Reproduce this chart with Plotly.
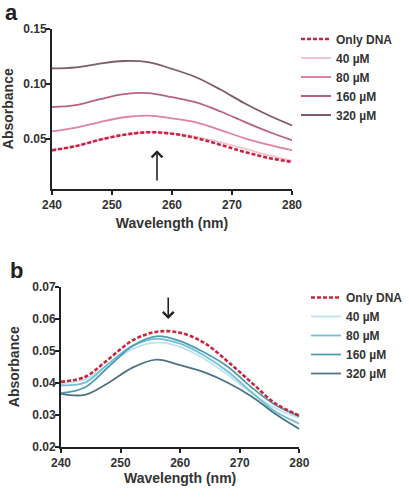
import plotly.graph_objects as go

# ---------------- data ----------------
wavelength = [240, 244, 248, 252, 256, 260, 264, 268, 272, 276, 280]
series_labels = ["Only DNA", "40 µM", "80 µM", "160 µM", "320 µM"]

# panel a
a_only_dna = [0.0394, 0.0432, 0.0490, 0.0535, 0.0558, 0.0545, 0.0505, 0.0445, 0.0380, 0.0325, 0.0287]
a_40 = [0.0394, 0.0432, 0.0490, 0.0535, 0.0558, 0.0547, 0.0515, 0.0468, 0.0410, 0.0350, 0.0300]
a_80 = [0.0566, 0.0600, 0.0650, 0.0695, 0.0710, 0.0685, 0.0648, 0.0580, 0.0505, 0.0445, 0.0394]
a_160 = [0.0787, 0.0805, 0.0860, 0.0905, 0.0915, 0.0878, 0.0830, 0.0750, 0.0655, 0.0565, 0.0485]
a_320 = [0.1140, 0.1150, 0.1185, 0.1208, 0.1198, 0.1136, 0.1060, 0.0950, 0.0825, 0.0715, 0.0620]

# panel b
b_only_dna = [0.0403, 0.0418, 0.0474, 0.0532, 0.0559, 0.0556, 0.0525, 0.0466, 0.0400, 0.0335, 0.0297]
b_40 = [0.0398, 0.0410, 0.0458, 0.0505, 0.0525, 0.0512, 0.0475, 0.0425, 0.0368, 0.0320, 0.0290]
b_80 = [0.0392, 0.0400, 0.0460, 0.0515, 0.0537, 0.0522, 0.0485, 0.0435, 0.0370, 0.0310, 0.0272]
b_160 = [0.0367, 0.0385, 0.0450, 0.0515, 0.0545, 0.0530, 0.0495, 0.0450, 0.0385, 0.0330, 0.0295]
b_320 = [0.0365, 0.0362, 0.0400, 0.0447, 0.0472, 0.0455, 0.0433, 0.0400, 0.0357, 0.0302, 0.0255]

a_ticks = [0.05, 0.10, 0.15]
b_ticks = [0.02, 0.03, 0.04, 0.05, 0.06, 0.07]
x_ticks = [240, 250, 260, 270, 280]

colors_a = ["#cc2145", "#f2c4cf", "#e0839f", "#b9617f", "#7f5b6b"]
colors_b = ["#c8283c", "#bde2ef", "#72bfd6", "#4e9cb4", "#4c7482"]

W, H = 409, 497
def px_x(p): return p / W
def px_y(p): return 1 - p / H

fig = go.Figure()

a_series = [a_only_dna, a_40, a_80, a_160, a_320]
b_series = [b_only_dna, b_40, b_80, b_160, b_320]

# draw concentration lines first, dashed "Only DNA" on top
for idx in [1, 2, 3, 4, 0]:
    fig.add_trace(go.Scatter(
        x=wavelength, y=a_series[idx], name=series_labels[idx], mode="lines",
        line=dict(color=colors_a[idx], width=2.6 if idx == 0 else 1.8,
                  dash="4px,2px" if idx == 0 else "solid", shape="spline", smoothing=1),
        xaxis="x", yaxis="y", legend="legend", legendrank=idx + 1))
for idx in [1, 2, 3, 4, 0]:
    fig.add_trace(go.Scatter(
        x=wavelength, y=b_series[idx], name=series_labels[idx], mode="lines",
        line=dict(color=colors_b[idx], width=2.6 if idx == 0 else 1.8,
                  dash="4px,2px" if idx == 0 else "solid", shape="spline", smoothing=1),
        xaxis="x2", yaxis="y2", legend="legend2", legendrank=idx + 1))

font_fam = "Liberation Sans, Arial, sans-serif"
axis_common = dict(showgrid=False, zeroline=False, showline=True, linecolor="#222",
                   linewidth=2, ticks="outside", ticklen=4, tickwidth=2, tickcolor="#222",
                   tickfont=dict(size=12, color="#333", family=font_fam, weight="bold"),
                   automargin=False)

fig.update_layout(
    width=W, height=H,
    margin=dict(l=0, r=0, t=0, b=0),
    paper_bgcolor="white", plot_bgcolor="white",
    font=dict(family=font_fam, color="#222"),
    xaxis=dict(axis_common, domain=[px_x(52), px_x(292)], range=[240, 280],
               tickvals=x_ticks, anchor="y",
               title=dict(text="Wavelength (nm)", standoff=7,
                          font=dict(size=14, weight="bold", color="#333"))),
    yaxis=dict(axis_common, domain=[px_y(188.5), px_y(29)], range=[0.0045, 0.15],
               tickvals=a_ticks, tickformat=".2f", anchor="x", ticklabelstandoff=-3,
               title=dict(text="Absorbance", standoff=9,
                          font=dict(size=14, weight="bold", color="#333"))),
    xaxis2=dict(axis_common, domain=[px_x(61), px_x(299.3)], range=[240, 280],
                tickvals=x_ticks, anchor="y2",
                title=dict(text="Wavelength (nm)", standoff=2,
                           font=dict(size=14, weight="bold", color="#333"))),
    yaxis2=dict(axis_common, domain=[px_y(446.7), px_y(286.7)], range=[0.02, 0.07],
                tickvals=b_ticks, tickformat=".2f", anchor="x2", ticklabelstandoff=-3,
                title=dict(text="Absorbance", standoff=9,
                           font=dict(size=14, weight="bold", color="#333"))),
    legend=dict(x=px_x(296), y=px_y(24.5), xanchor="left", yanchor="top",
                font=dict(size=12, weight="bold", color="#333"),
                bgcolor="rgba(0,0,0,0)", traceorder="normal"),
    legend2=dict(x=px_x(306), y=px_y(283), xanchor="left", yanchor="top",
                 font=dict(size=12, weight="bold", color="#333"),
                 bgcolor="rgba(0,0,0,0)", traceorder="normal"),
    annotations=[
        dict(text="a", x=px_x(3), y=px_y(-2), xref="paper", yref="paper",
             xanchor="left", yanchor="top", showarrow=False,
             font=dict(size=22, weight="bold", color="#222")),
        dict(text="b", x=px_x(8), y=px_y(256), xref="paper", yref="paper",
             xanchor="left", yanchor="top", showarrow=False,
             font=dict(size=22, weight="bold", color="#222")),
        dict(text="", x=257.5, y=0.0394, ax=257.5, ay=0.0105,
             xref="x", yref="y", axref="x", ayref="y",
             showarrow=True, arrowhead=4, arrowsize=1.3, arrowwidth=1.6, arrowcolor="#222"),
        dict(text="", x=258, y=0.0599, ax=258, ay=0.0671,
             xref="x2", yref="y2", axref="x2", ayref="y2",
             showarrow=True, arrowhead=4, arrowsize=1.3, arrowwidth=1.6, arrowcolor="#222"),
    ],
)

fig.write_html("out.html", config={"displayModeBar": False},
               post_script="document.body.style.margin='0';")
